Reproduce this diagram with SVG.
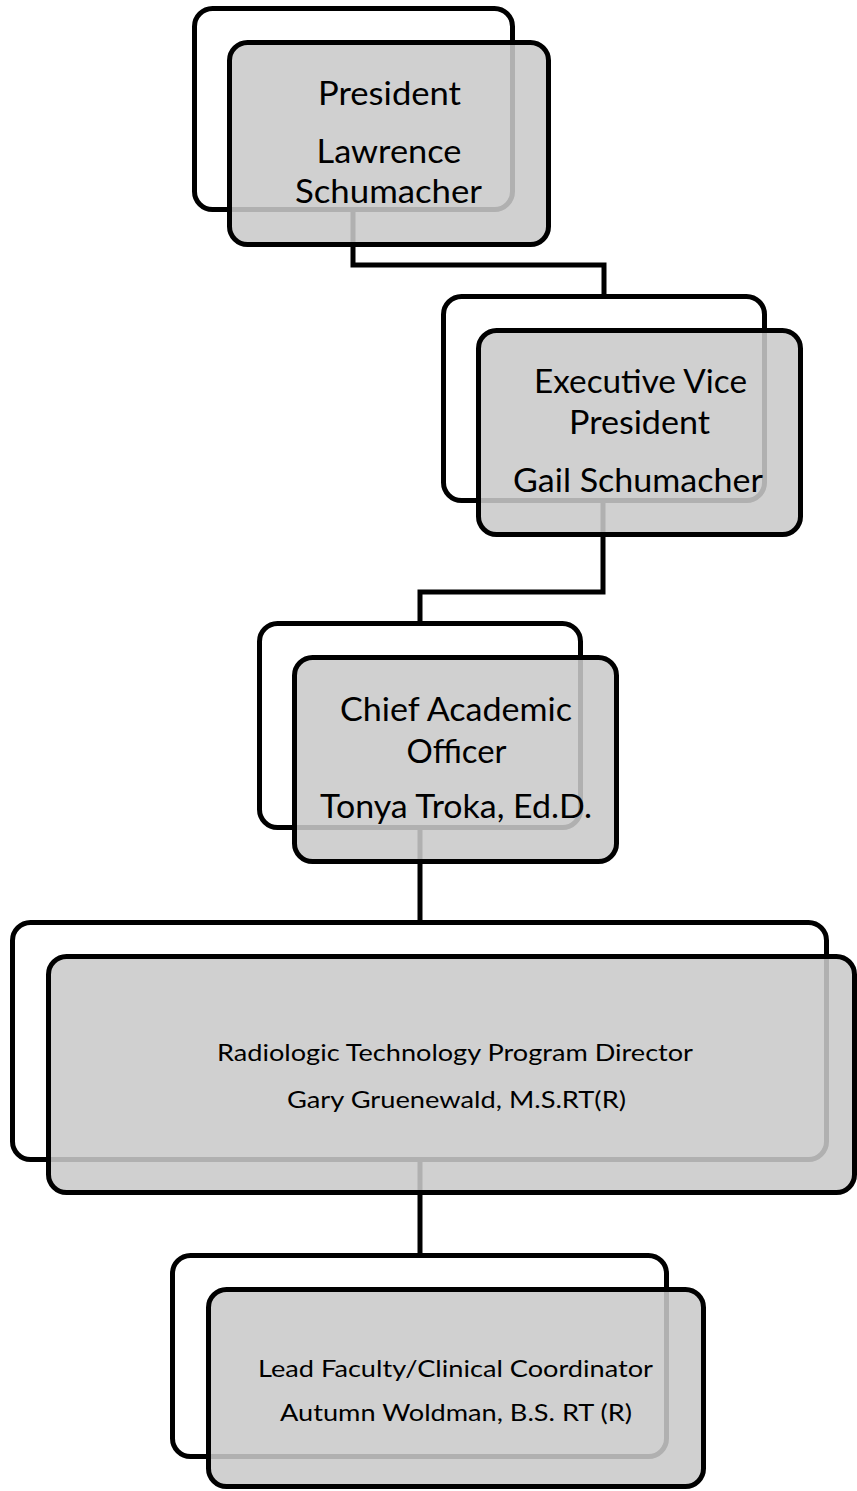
<svg xmlns="http://www.w3.org/2000/svg" width="857" height="1491" viewBox="0 0 857 1491">
<style>
.back{fill:#ffffff;stroke:#000000;stroke-width:5}
.front{fill:rgb(201,201,201);fill-opacity:0.875;stroke:#000000;stroke-width:5}
.conn{fill:none;stroke:#000000;stroke-width:5;stroke-linejoin:miter}
.big{font-family:Lato,"Open Sans",sans-serif;font-size:33px;fill:#000000;text-anchor:middle}
.small{font-family:Lato,"Open Sans",sans-serif;font-size:22.5px;fill:#000000;text-anchor:middle}
</style>
<rect width="857" height="1491" fill="#ffffff"/>
<g id="backs">
<rect class="back" x="194.5" y="8.5" width="318" height="201" rx="18"/>
<rect class="back" x="443.5" y="296.5" width="321" height="204" rx="18"/>
<rect class="back" x="259.5" y="623.5" width="321" height="204" rx="18"/>
<rect class="back" x="12.5" y="922.5" width="814" height="237" rx="18"/>
<rect class="back" x="172.5" y="1255.5" width="494" height="201" rx="18"/>
</g>
<g id="connectors">
<path class="conn" d="M353,210 V265 H604 V296"/>
<path class="conn" d="M603,500 V592 H420 V623"/>
<path class="conn" d="M420,827 V922"/>
<path class="conn" d="M420,1159 V1255"/>
</g>
<g id="node-president">
<rect class="front" x="229.5" y="42.5" width="319" height="202" rx="18"/>
<text class="big" x="389.5" y="105" textLength="143" lengthAdjust="spacingAndGlyphs">President</text>
<text class="big" x="389" y="163" textLength="145" lengthAdjust="spacingAndGlyphs">Lawrence</text>
<text class="big" x="388.5" y="203" textLength="187" lengthAdjust="spacingAndGlyphs">Schumacher</text>
</g>
<g id="node-evp">
<rect class="front" x="478.5" y="330.5" width="322" height="204" rx="18"/>
<text class="big" x="640.5" y="393" textLength="213" lengthAdjust="spacingAndGlyphs">Executive Vice</text>
<text class="big" x="639.5" y="434" textLength="141" lengthAdjust="spacingAndGlyphs">President</text>
<text class="big" x="638" y="492" textLength="250" lengthAdjust="spacingAndGlyphs">Gail Schumacher</text>
</g>
<g id="node-cao">
<rect class="front" x="294.5" y="657.5" width="322" height="204" rx="18"/>
<text class="big" x="456" y="721" textLength="232" lengthAdjust="spacingAndGlyphs">Chief Academic</text>
<text class="big" x="456.5" y="763" textLength="100" lengthAdjust="spacingAndGlyphs">Officer</text>
<text class="big" x="456" y="818" textLength="272" lengthAdjust="spacingAndGlyphs">Tonya Troka, Ed.D.</text>
</g>
<g id="node-director">
<rect class="front" x="48.5" y="956.5" width="806" height="236" rx="18"/>
<text class="small" x="455" y="1061" textLength="476" lengthAdjust="spacingAndGlyphs">Radiologic Technology Program Director</text>
<text class="small" x="456.5" y="1108" textLength="339" lengthAdjust="spacingAndGlyphs">Gary Gruenewald, M.S.RT(R)</text>
</g>
<g id="node-lead">
<rect class="front" x="208.5" y="1289.5" width="495" height="197" rx="18"/>
<text class="small" x="455.5" y="1377" textLength="395" lengthAdjust="spacingAndGlyphs">Lead Faculty/Clinical Coordinator</text>
<text class="small" x="456" y="1421" textLength="352" lengthAdjust="spacingAndGlyphs">Autumn Woldman, B.S. RT (R)</text>
</g>
</svg>
